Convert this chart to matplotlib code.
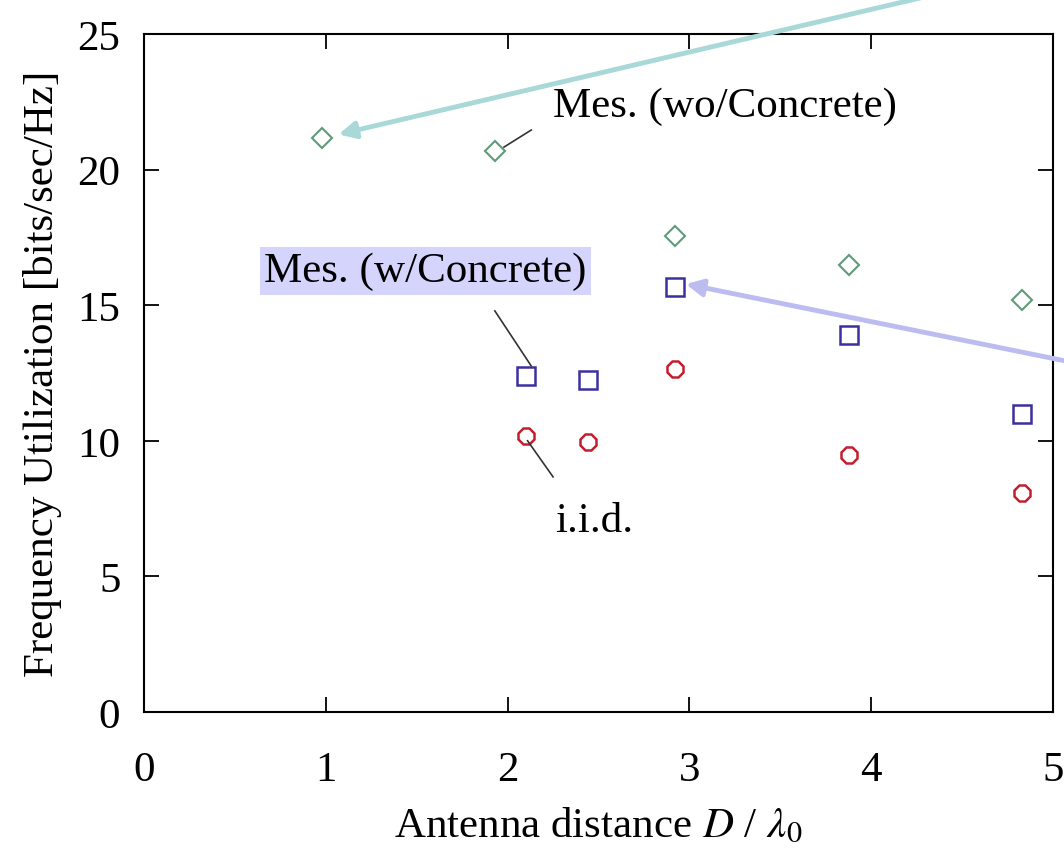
import matplotlib
matplotlib.use("Agg")
import matplotlib.pyplot as plt

plt.rcParams["font.family"] = ["Liberation Serif", "DejaVu Serif"]
plt.rcParams["mathtext.fontset"] = "stix"

# values
x_wo = [0.98, 1.93, 2.92, 3.88, 4.83]
y_wo = [21.17, 20.7, 17.55, 16.5, 15.2]

x_w = [2.10, 2.44, 2.92, 3.88, 4.83]
y_w = [12.4, 12.25, 15.67, 13.9, 11.0]

x_iid = [2.10, 2.44, 2.92, 3.88, 4.83]
y_iid = [10.18, 9.96, 12.65, 9.48, 8.07]

x_ticks = [0, 1, 2, 3, 4, 5]
y_ticks = [0, 5, 10, 15, 20, 25]

FS = 31

fig = plt.figure(figsize=(10.64, 8.54), dpi=100)
ax = fig.add_axes([0.1353, 0.1651, 0.8544, 0.7939])

ax.plot(x_wo, y_wo, linestyle="none", marker="D", markersize=10,
        markerfacecolor="none", markeredgecolor="#5f9a7a", markeredgewidth=1.5)
ax.plot(x_w, y_w, linestyle="none", marker="s", markersize=13,
        markerfacecolor="none", markeredgecolor="#3a30a0", markeredgewidth=1.8)
ax.plot(x_iid, y_iid, linestyle="none", marker="8", markersize=13,
        markerfacecolor="none", markeredgecolor="#c02030", markeredgewidth=1.8)

ax.set_xlim(0, 5)
ax.set_ylim(0, 25)
ax.set_xticks(x_ticks)
ax.set_yticks(y_ticks)
ax.tick_params(direction="in", length=11, width=1.3, top=True, right=True,
               labelsize=FS)
ax.tick_params(axis="x", pad=28)
ax.tick_params(axis="y", pad=17)
for s in ax.spines.values():
    s.set_linewidth(1.5)

ax.set_xlabel(r"Antenna distance $D$ / $\lambda_0$", fontsize=FS, labelpad=12)
ax.set_ylabel("Frequency Utilization [bits/sec/Hz]", fontsize=FS, labelpad=11)

# labels and leader lines
ax.text(2.25, 22.35, "Mes. (wo/Concrete)", fontsize=FS, va="center")
ax.plot([1.98, 2.13], [20.83, 21.46], color="#333333", lw=1.2)

ax.text(0.66, 16.26, "Mes. (w/Concrete)", fontsize=FS, va="center",
        bbox=dict(facecolor="#d4d4fc", edgecolor="none", pad=3))
ax.plot([1.93, 2.13], [14.79, 12.76], color="#333333", lw=1.2)

ax.text(2.26, 7.04, "i.i.d.", fontsize=FS, va="center")
ax.plot([2.11, 2.25], [10.0, 8.67], color="#333333", lw=1.2)

# coloured pointer arrows coming in from outside
ax.annotate("", xy=(1.07, 21.3), xycoords="data",
            xytext=(0.905, 1.013), textcoords="figure fraction",
            arrowprops=dict(arrowstyle="-|>", color="#a8d8d8", lw=3.5,
                            mutation_scale=25, shrinkA=0, shrinkB=0),
            annotation_clip=False)
ax.annotate("", xy=(2.98, 15.78), xycoords="data",
            xytext=(1.01, 0.574), textcoords="figure fraction",
            arrowprops=dict(arrowstyle="-|>", color="#bcbcf0", lw=3.5,
                            mutation_scale=25, shrinkA=0, shrinkB=0),
            annotation_clip=False)

fig.savefig("out.png", dpi=100)
